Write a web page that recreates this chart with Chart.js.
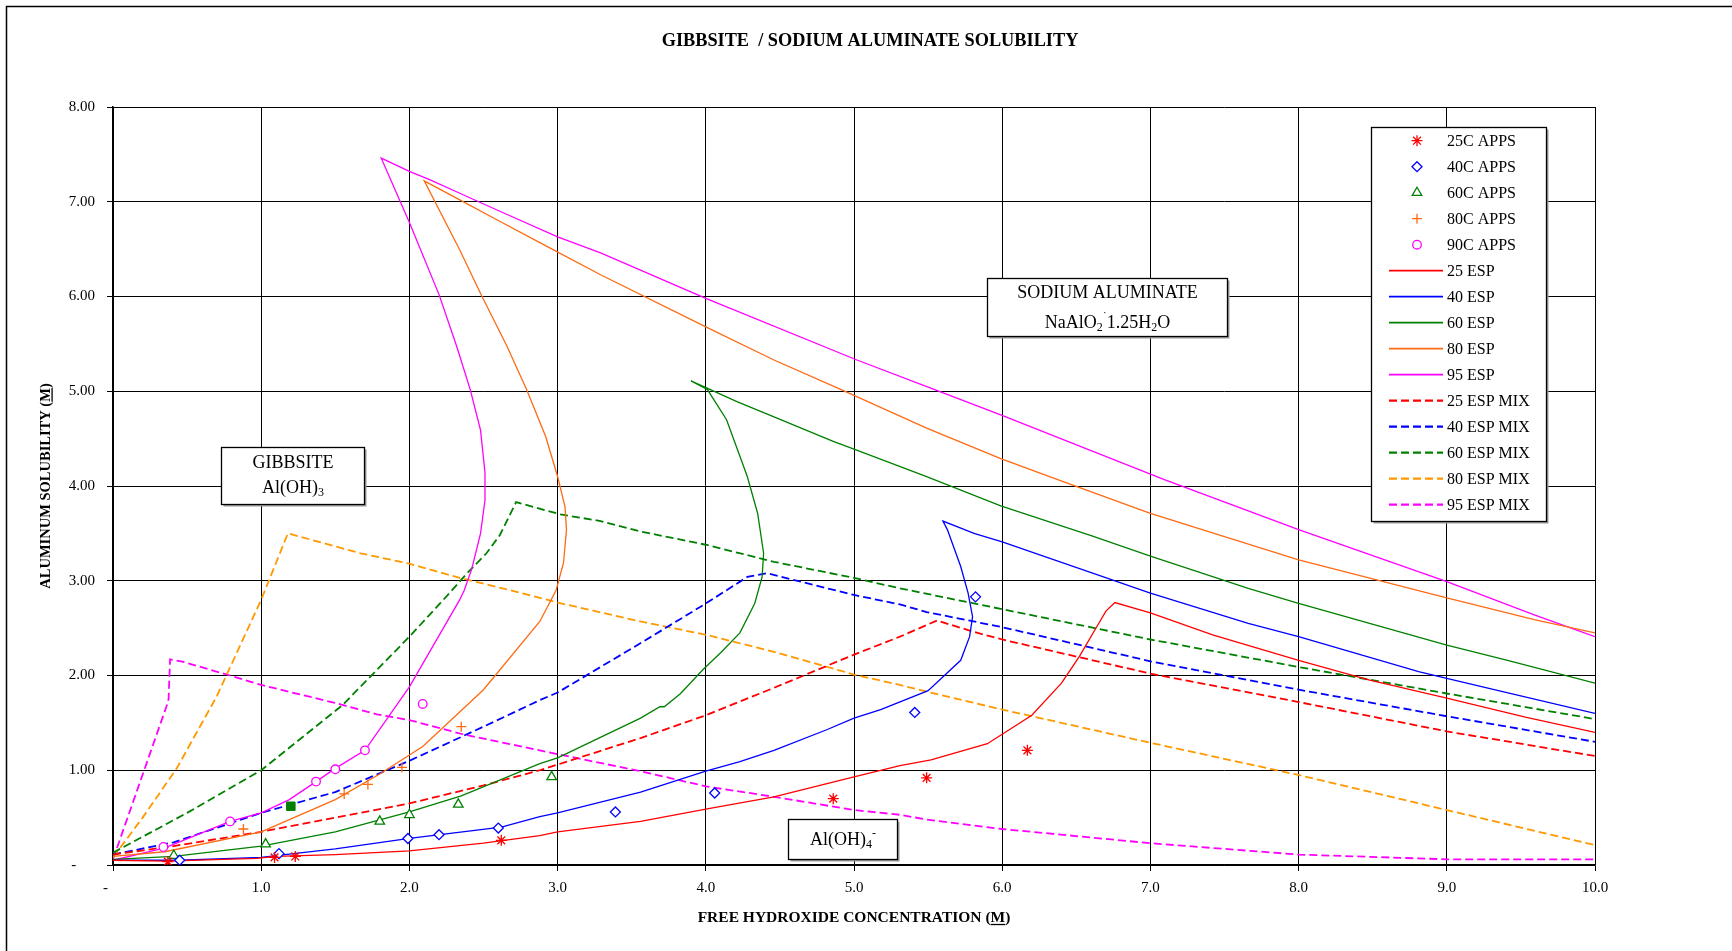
<!DOCTYPE html>
<html><head><meta charset="utf-8">
<script src="https://cdn.jsdelivr.net/npm/chart.js@4.4.0/dist/chart.umd.min.js"></script>
<style>html,body{margin:0;padding:0;background:#fff;}#wrap{width:1732px;height:951px;}</style>
</head><body><div id="wrap"><canvas id="c" width="1732" height="951"></canvas></div>
<script>
const FONT = '"Liberation Serif", "Times New Roman", Times, serif';
const chartTitle = 'GIBBSITE  / SODIUM ALUMINATE SOLUBILITY';
const xTitle = 'FREE HYDROXIDE CONCENTRATION (M)';
const yTitle = 'ALUMINUM SOLUBILITY (M)';

// axis ranges / ticks
const xTicks = [0,1,2,3,4,5,6,7,8,9,10];
const yTicks = [0,1,2,3,4,5,6,7,8];

// measured points [free OH (M), Al solubility (M)]
const apps25C = [[0.37,0.035],[1.09,0.08],[1.23,0.09],[2.62,0.26],[4.86,0.70],[5.49,0.92],[6.17,1.21]];
const apps40C = [[0.45,0.05],[1.12,0.12],[1.99,0.28],[2.20,0.32],[2.60,0.39],[3.39,0.56],[4.06,0.76],[5.41,1.61],[5.82,2.83]];
const apps60C = [[0.41,0.10],[1.03,0.22],[1.80,0.46],[2.00,0.53],[2.33,0.64],[2.96,0.93]];
const apps80C = [[0.88,0.38],[1.56,0.75],[1.72,0.85],[1.95,1.03],[2.35,1.46]];
const apps90C = [[0.34,0.19],[0.79,0.46],[1.37,0.88],[1.50,1.01],[1.70,1.21],[2.09,1.70]];
const extraPoint = [[1.20,0.62]];

// ESP curves
const esp25 = [[0,0.05],[0.36,0.04],[0.97,0.07],[1.1,0.09],[1.5,0.11],[2.0,0.15],[2.5,0.23],[2.88,0.31],[3.0,0.35],[3.56,0.46],[4.0,0.59],[4.46,0.72],[5.0,0.93],[5.31,1.05],[5.52,1.11],[5.9,1.28],[6.0,1.38],[6.2,1.58],[6.4,1.92],[6.52,2.2],[6.64,2.52],[6.7,2.68],[6.76,2.77],[7.0,2.66],[7.42,2.43],[8.0,2.16],[8.48,1.95],[9.0,1.76],[9.53,1.56],[10.0,1.40]];
const esp40 = [[0,0.05],[0.45,0.05],[1.0,0.08],[1.1,0.10],[1.5,0.17],[2.0,0.28],[2.62,0.40],[2.88,0.51],[3.0,0.55],[3.56,0.77],[4.0,0.99],[4.23,1.09],[4.46,1.21],[4.82,1.43],[5.0,1.55],[5.18,1.64],[5.5,1.84],[5.72,2.16],[5.78,2.41],[5.80,2.62],[5.77,2.87],[5.72,3.15],[5.63,3.54],[5.60,3.63],[5.81,3.50],[6.0,3.41],[6.61,3.08],[7.0,2.87],[7.66,2.55],[8.0,2.41],[8.81,2.04],[9.0,1.97],[9.32,1.85],[10.0,1.60]];
const esp60 = [[0,0.06],[0.41,0.09],[1.0,0.20],[1.5,0.35],[2.0,0.56],[2.35,0.73],[2.88,1.07],[3.0,1.13],[3.56,1.55],[3.69,1.67],[3.72,1.67],[3.83,1.81],[3.98,2.06],[4.10,2.24],[4.23,2.45],[4.33,2.76],[4.38,3.04],[4.39,3.29],[4.35,3.71],[4.28,4.10],[4.14,4.70],[4.01,5.02],[3.90,5.11],[4.21,4.89],[4.46,4.73],[4.86,4.47],[5.0,4.39],[5.49,4.10],[5.99,3.79],[6.61,3.47],[7.0,3.26],[7.66,2.92],[8.0,2.76],[9.0,2.32],[9.41,2.16],[10.0,1.92]];
const esp80 = [[0,0.09],[0.35,0.14],[1.0,0.35],[1.5,0.69],[1.8,0.96],[2.09,1.25],[2.5,1.85],[2.88,2.57],[2.99,2.90],[3.04,3.19],[3.06,3.54],[3.05,3.78],[3.0,4.10],[2.92,4.52],[2.79,5.02],[2.66,5.47],[2.49,6.0],[2.34,6.49],[2.10,7.22],[2.34,7.02],[2.59,6.81],[2.95,6.51],[3.29,6.23],[4.0,5.68],[4.46,5.33],[4.91,5.02],[5.49,4.61],[5.99,4.29],[6.37,4.07],[7.0,3.71],[8.0,3.22],[9.0,2.82],[9.59,2.59],[10.0,2.45]];
const esp95 = [[0,0.05],[0.35,0.18],[0.79,0.46],[1.0,0.55],[1.19,0.69],[1.37,0.88],[1.5,1.02],[1.70,1.21],[2.0,1.88],[2.34,2.80],[2.37,2.90],[2.42,3.12],[2.48,3.50],[2.51,3.85],[2.51,4.14],[2.48,4.59],[2.41,5.02],[2.32,5.47],[2.20,6.02],[2.0,6.78],[1.81,7.46],[2.0,7.32],[2.14,7.23],[2.34,7.09],[2.61,6.90],[3.0,6.63],[3.29,6.46],[4.0,5.98],[5.02,5.33],[5.54,5.02],[5.99,4.75],[7.09,4.07],[8.0,3.54],[9.0,2.99],[9.59,2.64],[10.0,2.41]];

// ESP MIX curves
const mix25 = [[0,0.11],[0.41,0.20],[1.0,0.35],[1.5,0.50],[2.0,0.65],[2.5,0.84],[2.88,1.0],[3.0,1.06],[3.56,1.34],[4.0,1.58],[4.46,1.87],[5.0,2.22],[5.31,2.41],[5.56,2.58],[5.81,2.46],[6.0,2.38],[7.0,2.02],[8.0,1.72],[9.0,1.41],[10.0,1.15]];
const mix40 = [[0,0.11],[0.41,0.24],[1.0,0.55],[1.5,0.77],[2.0,1.10],[2.5,1.46],[2.88,1.74],[3.0,1.82],[3.58,2.36],[4.0,2.76],[4.28,3.04],[4.41,3.08],[5.0,2.85],[5.31,2.75],[5.49,2.67],[6.0,2.51],[7.0,2.15],[8.0,1.85],[9.0,1.57],[10.0,1.30]];
const mix60 = [[0,0.13],[0.5,0.55],[1.0,1.0],[1.55,1.69],[2.0,2.41],[2.23,2.80],[2.39,3.08],[2.52,3.29],[2.61,3.48],[2.72,3.83],[3.02,3.70],[3.29,3.63],[3.56,3.52],[4.0,3.38],[4.46,3.20],[5.0,3.03],[5.31,2.92],[6.0,2.70],[7.0,2.38],[8.0,2.09],[9.0,1.81],[10.0,1.54]];
const mix80 = [[0,0.08],[0.2,0.5],[0.43,1.02],[0.70,1.78],[1.0,2.80],[1.18,3.50],[1.67,3.29],[2.0,3.18],[2.34,3.03],[2.68,2.90],[3.0,2.77],[3.56,2.57],[4.0,2.43],[4.46,2.25],[5.0,2.01],[5.31,1.90],[5.49,1.83],[6.0,1.64],[7.0,1.29],[8.0,0.95],[9.0,0.58],[10.0,0.21]];
const mix95 = [[0,0.06],[0.36,1.67],[0.375,1.75],[0.385,2.17],[0.46,2.15],[0.79,2.0],[1.0,1.90],[1.5,1.71],[1.78,1.59],[2.0,1.53],[2.36,1.38],[3.0,1.17],[3.56,0.99],[4.0,0.83],[4.46,0.72],[5.0,0.58],[5.31,0.53],[5.49,0.48],[6.0,0.38],[7.0,0.23],[8.0,0.11],[9.0,0.06],[10.0,0.06]];

const RED='#ff0000', BLUE='#0000ff', GREEN='#008000', ORANGE='#ff6a13', LORANGE='#ff9900', MAG='#ff00ff';

const toXY = pts => pts.map(p => ({x:p[0], y:p[1]}));
function markDS(label, pts, color, style, r){
  return {label, data:toXY(pts), showLine:false, borderColor:color, backgroundColor:'#ffffff',
    pointStyle:style, pointRadius:r, pointHoverRadius:r, pointBorderWidth:1.3};
}
function lineDS(label, pts, color, dashed){
  return {label, data:toXY(pts), showLine:true, borderColor:color, backgroundColor:color,
    borderWidth: dashed?1.8:1.3, borderDash: dashed?[8,4]:[], pointRadius:0, pointHoverRadius:0,
    tension:0, fill:false};
}
const datasets = [
  markDS('25C APPS', apps25C, RED, 'star', 5.5),
  markDS('40C APPS', apps40C, BLUE, 'rectRot', 5),
  markDS('60C APPS', apps60C, GREEN, 'triangle', 5.5),
  markDS('80C APPS', apps80C, ORANGE, 'cross', 5),
  markDS('90C APPS', apps90C, MAG, 'circle', 4.3),
  lineDS('25 ESP', esp25, RED, false),
  lineDS('40 ESP', esp40, BLUE, false),
  lineDS('60 ESP', esp60, GREEN, false),
  lineDS('80 ESP', esp80, ORANGE, false),
  lineDS('95 ESP', esp95, MAG, false),
  lineDS('25 ESP MIX', mix25, RED, true),
  lineDS('40 ESP MIX', mix40, BLUE, true),
  lineDS('60 ESP MIX', mix60, GREEN, true),
  lineDS('80 ESP MIX', mix80, LORANGE, true),
  lineDS('95 ESP MIX', mix95, MAG, true),
];
const extra = {label:'', data:toXY(extraPoint), showLine:false, borderColor:GREEN, backgroundColor:GREEN,
  pointStyle:'rect', pointRadius:6, pointBorderWidth:1, hideInLegend:true};
datasets.splice(5,0,extra);

// text boxes (data-space rectangles)
const boxes = [
  {x0:0.729, x1:1.694, yTop:4.414, yBot:3.812, lines:[
     {dy:16, segs:[['GIBBSITE','n']]},
     {dy:41, segs:[['Al(OH)','n'],['3','sub']]} ]},
  {x0:5.897, x1:7.517, yTop:6.199, yBot:5.586, lines:[
     {dy:15, segs:[['SODIUM ALUMINATE','n']]},
     {dy:45, segs:[['NaAlO','n'],['2','sub'],['\u02D9','sup'],['1.25H','n'],['2','sub'],['O','n']]} ]},
  {x0:4.555, x1:5.290, yTop:0.486, yBot:0.063, lines:[
     {dy:21, segs:[['Al(OH)','n'],['4','sub'],['-','sup']]} ]}
];

function segFont(t){ return (t==='n' ? '18px ' : '12px ') + FONT; }
function drawRich(ctx, segs, cx, cy){
  let w=0;
  segs.forEach(s=>{ ctx.font=segFont(s[1]); w+=ctx.measureText(s[0]).width; });
  let x=cx-w/2;
  ctx.textBaseline='middle'; ctx.textAlign='left';
  segs.forEach(s=>{
    ctx.font=segFont(s[1]);
    const off = s[1]==='sub'?4:(s[1]==='sup'?-7:0);
    ctx.fillText(s[0], x, cy+off);
    x+=ctx.measureText(s[0]).width;
  });
}
function shadowBox(ctx, x, y, w, h){
  ctx.fillStyle='#9a9a9a'; ctx.fillRect(x+2, y+2, w, h);
  ctx.fillStyle='#fff'; ctx.fillRect(x, y, w, h);
  ctx.strokeStyle='#000'; ctx.lineWidth=1.3; ctx.strokeRect(x, y, w, h);
}
function underlinedText(ctx, text, uFrom, uTo, cx, cy, size){
  ctx.font='bold '+size+'px '+FONT; ctx.textAlign='left'; ctx.textBaseline='middle';
  const w=ctx.measureText(text).width; const x=cx-w/2;
  ctx.fillText(text, x, cy);
  const a=ctx.measureText(text.slice(0,uFrom)).width, b=ctx.measureText(text.slice(0,uTo)).width;
  ctx.lineWidth=1.3; ctx.strokeStyle='#000';
  ctx.beginPath(); ctx.moveTo(x+a, cy+size*0.42); ctx.lineTo(x+b, cy+size*0.42); ctx.stroke();
}

const decor = {
  id:'decor',
  beforeDraw(chart){
    const {ctx,width,height}=chart; ctx.save();
    ctx.fillStyle='#fff'; ctx.fillRect(0,0,width,height);
    ctx.strokeStyle='#000'; ctx.lineWidth=1.5;
    ctx.beginPath(); ctx.moveTo(6.5,height); ctx.lineTo(6.5,6.5); ctx.lineTo(width,6.5); ctx.stroke();
    ctx.restore();
  },
  afterDraw(chart){
    const {ctx, chartArea:ca, scales:{x,y}} = chart; ctx.save();
    ctx.fillStyle='#000';
    // chart title
    ctx.font='bold 18.3px '+FONT; ctx.textAlign='center'; ctx.textBaseline='middle';
    ctx.fillText(chartTitle, 870, 41);
    // axis titles
    const mx = xTitle.indexOf('(M)')+1;
    underlinedText(ctx, xTitle, mx, mx+1, (ca.left+ca.right)/2, 918, 15.5);
    ctx.save(); ctx.translate(46,(ca.top+ca.bottom)/2); ctx.rotate(-Math.PI/2);
    const my = yTitle.indexOf('(M)')+1;
    ctx.fillStyle='#000';
    underlinedText(ctx, yTitle, my, my+1, 0, 0, 14.5);
    ctx.restore();
    // boxes
    boxes.forEach(b=>{
      const px0=Math.round(x.getPixelForValue(b.x0))+0.5, px1=Math.round(x.getPixelForValue(b.x1))+0.5;
      const py0=Math.round(y.getPixelForValue(b.yTop))+0.5, py1=Math.round(y.getPixelForValue(b.yBot))+0.5;
      shadowBox(ctx, px0, py0, px1-px0, py1-py0);
      ctx.fillStyle='#000';
      b.lines.forEach(l=>drawRich(ctx, l.segs, (px0+px1)/2, py0+l.dy));
    });
    // legend
    const lx=1371.5, ly=127.5, lw=175, lh=394;
    shadowBox(ctx, lx, ly, lw, lh);
    const items = chart.data.datasets.filter(d=>!d.hideInLegend);
    items.forEach((d,i)=>{
      const cy = 140.7 + i*26;
      if (d.showLine){
        ctx.save(); ctx.strokeStyle=d.borderColor; ctx.lineWidth=d.borderWidth+0.4; ctx.setLineDash(d.borderDash);
        ctx.beginPath(); ctx.moveTo(1389,cy); ctx.lineTo(1443,cy); ctx.stroke(); ctx.restore();
      } else {
        ctx.save(); ctx.strokeStyle=d.borderColor; ctx.fillStyle=d.backgroundColor; ctx.lineWidth=d.pointBorderWidth;
        Chart.helpers.drawPoint(ctx, {pointStyle:d.pointStyle, radius:d.pointRadius, rotation:0, borderWidth:d.pointBorderWidth}, 1417, cy);
        ctx.restore();
      }
      ctx.fillStyle='#000'; ctx.font='16px '+FONT; ctx.textAlign='left'; ctx.textBaseline='middle';
      ctx.fillText(d.label, 1447, cy+1);
    });
    ctx.restore();
  }
};

new Chart(document.getElementById('c'), {
  type:'scatter',
  data:{datasets},
  options:{
    responsive:false, animation:false, devicePixelRatio:1, events:[],
    layout:{padding:{left:0, right:137, top:107, bottom:0}},
    plugins:{
      legend:{display:false}, tooltip:{enabled:false}, title:{display:false}
    },
    scales:{
      x:{type:'linear', min:xTicks[0], max:xTicks[xTicks.length-1],
        afterFit:s=>{s.height=86;},
        afterBuildTicks:s=>{s.ticks=xTicks.map(v=>({value:v}));},
        ticks:{font:{family:FONT,size:15}, color:'#000', padding:8, maxRotation:0, autoSkip:false,
          callback:v=> v===0 ? '-    ' : Number(v).toFixed(1)},
        grid:{color:'#000', lineWidth:1, tickLength:6}, border:{color:'#000', width:1.5}},
      y:{type:'linear', min:yTicks[0], max:yTicks[yTicks.length-1],
        afterFit:s=>{s.width=113;},
        afterBuildTicks:s=>{s.ticks=yTicks.map(v=>({value:v}));},
        ticks:{font:{family:FONT,size:15}, color:'#000', padding:12, autoSkip:false,
          callback:v=> v===0 ? '-     ' : Number(v).toFixed(2)},
        grid:{color:'#000', lineWidth:1, tickLength:6}, border:{color:'#000', width:1.5}}
    }
  },
  plugins:[decor]
});
</script></body></html>
